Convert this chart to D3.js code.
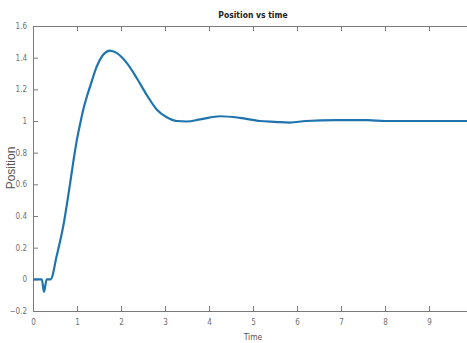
<!DOCTYPE html>
<html>
<head>
<meta charset="utf-8">
<script src="https://cdn.jsdelivr.net/npm/d3@7"></script>
<style>
  body { margin: 0; background: #fff; }
  svg { display: block; }
  .axis text { font-family: "DejaVu Sans Condensed", "Liberation Sans Narrow", Arial, sans-serif; font-stretch: condensed; font-size: 8px; fill: #707070; }
  .axis path, .axis line { stroke: #7a7a7a; }
</style>
</head>
<body>
<div id="chart"></div>
<script>
// values
var time = [0, 0.2, 0.25, 0.31, 0.4, 0.54, 0.69, 0.84, 0.92, 0.99, 1.07, 1.14, 1.22, 1.3, 1.45, 1.6, 1.75, 1.9, 2.13, 2.36, 2.58, 2.81, 3.04, 3.27, 3.5, 3.8, 4.25, 4.7, 5.16, 5.5, 5.84, 6.2, 6.9, 7.6, 8.0, 9.0, 10];
var position = [0, 0, -0.08, 0, 0, 0.15, 0.34, 0.6, 0.75, 0.87, 0.98, 1.07, 1.15, 1.22, 1.345, 1.42, 1.445, 1.43, 1.367, 1.27, 1.167, 1.073, 1.024, 1.0, 0.997, 1.01, 1.03, 1.02, 1.0, 0.995, 0.99, 1.0, 1.005, 1.005, 1.0, 1.0, 1.0];
var xTicks = [0, 1, 2, 3, 4, 5, 6, 7, 8, 9];
var yTicks = [-0.2, 0, 0.2, 0.4, 0.6, 0.8, 1, 1.2, 1.4, 1.6];

var margin = { left: 33, right: -6, top: 26, bottom: 32 };
var W = 467, H = 343;
var width = W - margin.left - margin.right;
var height = H - margin.top - margin.bottom;

var svg = d3.select("#chart").append("svg")
    .attr("width", W)
    .attr("height", H);

var g = svg.append("g")
    .attr("transform", "translate(" + margin.left + "," + margin.top + ")");

var x = d3.scaleLinear().domain([0, 10]).range([0, width]);
var y = d3.scaleLinear().domain([-0.2, 1.6]).range([height, 0]);

var fmt = function(d){ return d3.format("")(+d.toFixed(1)); };

// bottom + left axes with labels, ticks pointing in
g.append("g").attr("class", "axis")
    .attr("transform", "translate(0," + height + ")")
    .call(d3.axisBottom(x).tickValues(xTicks).tickFormat(fmt).tickSizeInner(-5).tickSizeOuter(0).tickPadding(8));

g.append("g").attr("class", "axis")
    .call(d3.axisLeft(y).tickValues(yTicks).tickFormat(fmt).tickSizeInner(-5).tickSizeOuter(0).tickPadding(6));

// top + right mirrors, no labels
g.append("g").attr("class", "axis")
    .call(d3.axisTop(x).tickValues(xTicks).tickFormat("").tickSizeInner(-5).tickSizeOuter(0));

g.append("g").attr("class", "axis")
    .attr("transform", "translate(" + width + ",0)")
    .call(d3.axisRight(y).tickValues(yTicks).tickFormat("").tickSizeInner(-5).tickSizeOuter(0));

var line = d3.line()
    .x(function(d, i){ return x(time[i]); })
    .y(function(d){ return y(d); })
    .curve(d3.curveMonotoneX);

g.append("path")
    .datum(position)
    .attr("d", line)
    .attr("fill", "none")
    .attr("stroke", "#1f74ae")
    .attr("stroke-width", 2.2);

// title and axis labels
svg.append("text")
    .attr("x", 253).attr("y", 18)
    .style("text-anchor", "middle")
    .style("font-family", "'DejaVu Sans Condensed', 'Liberation Sans Narrow', Arial, sans-serif")
    .style("font-size", "8.5px").style("font-weight", "bold").style("fill", "#222")
    .text("Position vs time");

svg.append("text")
    .attr("x", 253).attr("y", 340)
    .style("text-anchor", "middle")
    .style("font-family", "'DejaVu Sans Condensed', 'Liberation Sans Narrow', Arial, sans-serif")
    .style("font-size", "8.5px").style("fill", "#555")
    .text("Time");

svg.append("text")
    .attr("transform", "translate(15,168) rotate(-90)")
    .style("text-anchor", "middle")
    .style("font-family", "'Liberation Sans', Arial, sans-serif")
    .style("font-size", "12px").style("fill", "#555")
    .text("Position");
</script>
</body>
</html>
